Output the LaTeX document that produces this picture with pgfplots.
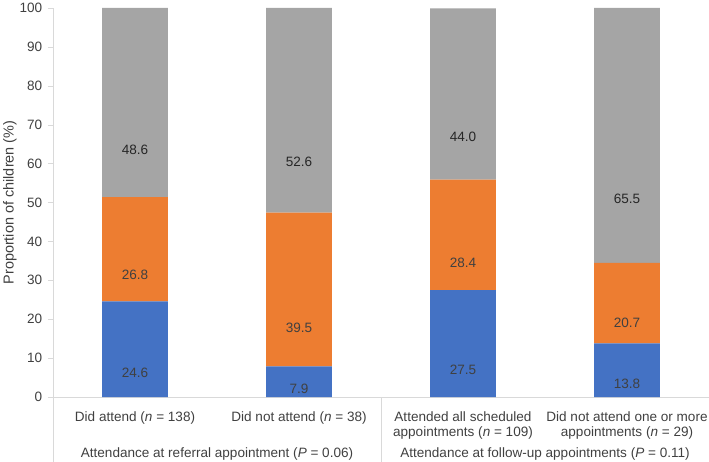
\documentclass[border=0pt]{standalone}
\usepackage{fontspec}
\setmainfont{Liberation Sans}
\usepackage{pgfplots}
\usepackage{pgfplotstable}
\pgfplotsset{compat=1.18}

\definecolor{cBlue}{HTML}{4472C4}
\definecolor{cOrange}{HTML}{ED7D31}
\definecolor{cGray}{HTML}{A5A5A5}
\definecolor{cAxis}{HTML}{D9D9D9}
\definecolor{cText}{HTML}{404040}

% one table per segment colour, x = category index
\pgfplotstableread{
x v
0 24.6
1 7.9
2 27.5
3 13.8
}\segblue
\pgfplotstableread{
x v
0 26.8
1 39.5
2 28.4
3 20.7
}\segorange
\pgfplotstableread{
x v
0 48.6
1 52.6
2 44.0
3 65.5
}\seggray

\pgfplotsset{
    seg/.style 2 args={
        fill=#1, draw=none,
        nodes near coords={\pgfmathprintnumber[fixed,fixed zerofill,precision=1]{\pgfplotspointmeta}},
        point meta=\thisrow{v},
        visualization depends on={\thisrow{v} \as \rawv},
        % the shift ends up applied twice, so a quarter puts the label mid-segment
        every node near coord/.style={anchor=center, text=#2,
            shift={(axis direction cs:0,-\rawv/4)}},
    }
}

\begin{document}
\fontsize{13.6}{19}\selectfont
\begin{tikzpicture}
\begin{axis}[
    name=ax,
    scale only axis, width=656bp, height=389bp,
    ybar stacked, bar width=0.4,
    xmin=-0.5, xmax=3.5, ymin=0, ymax=100,
    clip=false,
    axis lines*=left, axis line style={draw=cAxis},
    ytick={0,10,...,100},
    tick align=outside,
    major tick length=5bp,
    y tick style={draw=cAxis},
    yticklabel style={text=cText, xshift=-1bp},
    /pgf/number format/assume math mode=true,
    xtick={0,1,2,3},
    x tick style={draw=none},
    xticklabels={Did attend (\textit{n} = 138), Did not attend (\textit{n} = 38),
        Attended all scheduled\\[-4bp]appointments (\textit{n} = 109),
        Did not attend one or more\\[-4bp]appointments (\textit{n} = 29)},
    xticklabel style={align=center, text=cText, anchor=north, yshift=-5bp},
]
    \addplot[seg={cBlue}{cText}] table {\segblue};
    \addplot[seg={cOrange}{cText}] table {\segorange};
    \addplot[seg={cGray}{black!85}] table {\seggray};

    % multi-level category separators
    \draw[cAxis] (rel axis cs:0,0) -- ([yshift=-65bp]rel axis cs:0,0);
    \draw[cAxis] (rel axis cs:0.5,0) -- ([yshift=-65bp]rel axis cs:0.5,0);

    \node[text=cText] at ([yshift=-57bp]rel axis cs:0.25,0)
        {Attendance at referral appointment (\textit{P} = 0.06)};
    \node[text=cText] at ([yshift=-57bp]rel axis cs:0.75,0)
        {Attendance at follow-up appointments (\textit{P} = 0.11)};
    \node[text=cText, rotate=90, font=\fontsize{14.5}{17}\selectfont]
        at ([xshift=-43bp]rel axis cs:0,0.5) {Proportion of children (\%)};
\end{axis}
\pgfresetboundingbox
\path ([xshift=-53bp,yshift=-65bp]ax.south west) rectangle ([yshift=8bp]ax.north east);
\end{tikzpicture}
\end{document}
